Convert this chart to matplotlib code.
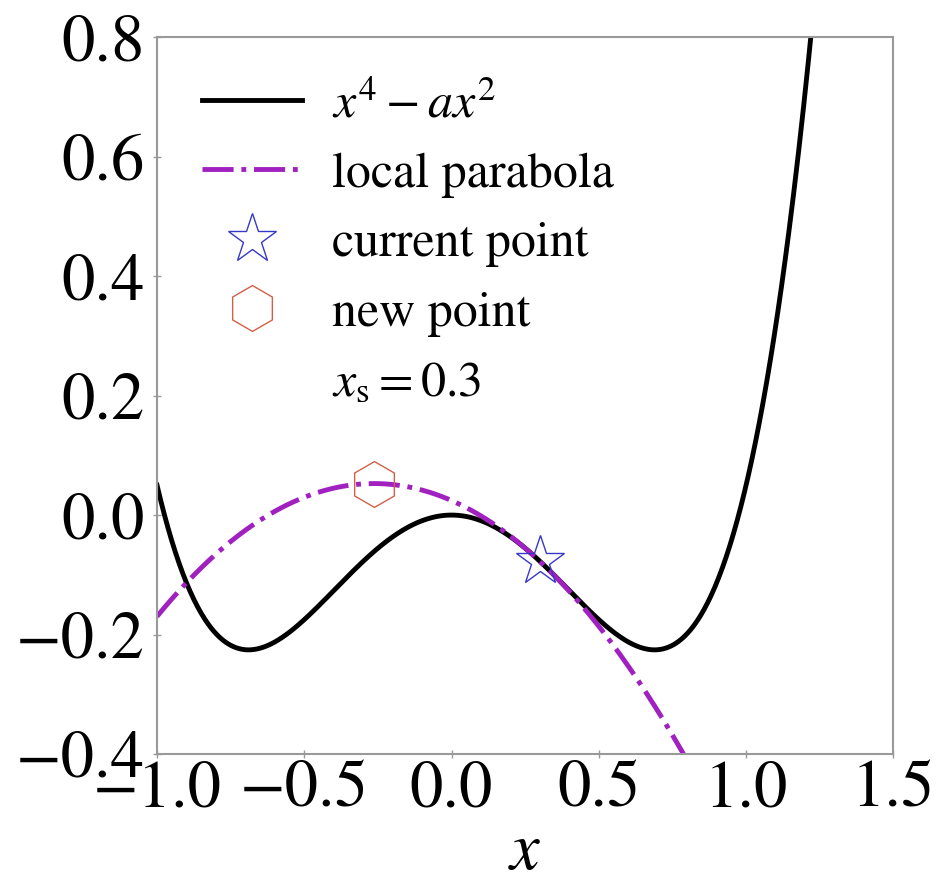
import numpy as np
import matplotlib
matplotlib.use("Agg")
import matplotlib.pyplot as plt

# Parameters
a_coef = 0.95          # f(x) = x^4 - a x^2, minima near +-0.69 at about -0.23
x_s = 0.3              # current point
x_range = [-1.0, 1.5]
y_range = [-0.4, 0.8]
x_ticks = [-1.0, -0.5, 0.0, 0.5, 1.0, 1.5]
y_ticks = [-0.4, -0.2, 0.0, 0.2, 0.4, 0.6, 0.8]


def f(x):
    return x**4 - a_coef * x**2


def df(x):
    return 4 * x**3 - 2 * a_coef * x


def d2f(x):
    return 12 * x**2 - 2 * a_coef


def local_parabola(x):
    return f(x_s) + df(x_s) * (x - x_s) + 0.5 * d2f(x_s) * (x - x_s)**2


x_new = x_s - df(x_s) / d2f(x_s)

plt.rcParams['font.family'] = ['STIXGeneral', 'DejaVu Serif']
plt.rcParams['mathtext.fontset'] = 'stix'

fig = plt.figure(figsize=(9.38, 8.85), dpi=100)
ax = fig.add_axes([0.1674, 0.148, 0.785, 0.810])

xs = np.linspace(x_range[0], x_range[1], 600)
ax.plot(xs, f(xs), color='black', lw=3.5, label=r'$x^4 - ax^2$')
ax.plot(xs, local_parabola(xs), color='#a020c0', lw=3.5, ls='-.',
        label='local parabola')
ax.plot([x_s], [f(x_s)], ls='none', marker='*', ms=37, mfc='none',
        mec='#3838c8', mew=1.0, label='current point')
ax.plot([x_new], [local_parabola(x_new)], ls='none', marker='h', ms=33,
        mfc='none', mec='#d06048', mew=1.0, label='new point')
ax.plot([], [], ls='none', label=r'$x_\mathrm{s} = 0.3$')

ax.set_xlim(x_range)
ax.set_ylim(y_range)
ax.set_xticks(x_ticks)
ax.set_yticks(y_ticks)
ax.set_xticklabels([f'{v:.1f}'.replace('-', '\u2212') for v in x_ticks])
ax.set_yticklabels([f'{v:.1f}'.replace('-', '\u2212') for v in y_ticks])
ax.tick_params(labelsize=48, direction='inout', length=6, width=1,
               color='#999999')
ax.tick_params(axis='y', pad=6)
ax.tick_params(axis='x', pad=2)
for sp in ax.spines.values():
    sp.set_color('#999999')
    sp.set_linewidth(1.5)

ax.set_xlabel(r'$x$', fontsize=48, labelpad=1)

ax.legend(loc='upper left', frameon=False, fontsize=36, handlelength=2.0,
          handletextpad=0.6, labelspacing=0.47, borderaxespad=0.3,
          borderpad=0.6)

fig.savefig('out.png', dpi=100)
